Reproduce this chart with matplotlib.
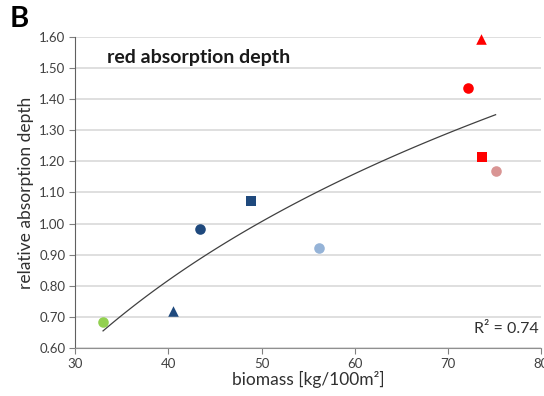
import numpy as np
import matplotlib.pyplot as plt

plt.rcParams['font.family'] = ['Lato', 'DejaVu Sans']

# data
biomass = [33.0, 40.5, 43.4, 48.9, 56.2, 72.1, 73.5, 73.6, 75.1]
depth = [0.683, 0.72, 0.982, 1.074, 0.92, 1.436, 1.594, 1.213, 1.170]
markers = ['o', '^', 'o', 's', 'o', 'o', '^', 's', 'o']
colors = ['#92D050', '#1F497D', '#1F497D', '#1F497D', '#95B3D7',
          '#FF0000', '#FF0000', '#FF0000', '#D99594']
xticks = [30, 40, 50, 60, 70, 80]
yticks = [0.6, 0.7, 0.8, 0.9, 1.0, 1.1, 1.2, 1.3, 1.4, 1.5, 1.6]

fig = plt.figure(figsize=(5.44, 3.96), dpi=100)
ax = fig.add_axes([0.138, 0.121, 0.857, 0.786])

# log trend line
x = np.array(biomass)
a, b = np.polyfit(np.log(x), depth, 1)
xs = np.linspace(x.min(), x.max(), 100)
ax.plot(xs, a * np.log(xs) + b, color='#404040', lw=0.9, zorder=2)

for xi, yi, m, c in zip(biomass, depth, markers, colors):
    ax.scatter(xi, yi, marker=m, s=58 if m != 's' else 48, color=c, zorder=3,
               linewidths=0, clip_on=False)

ax.set_xlim(30, 80)
ax.set_ylim(0.6, 1.6)
ax.set_xticks(xticks)
ax.set_yticks(yticks)
ax.set_yticklabels([f"{v:.2f}" for v in yticks])
ax.yaxis.grid(True, color='#D9D9D9', lw=1.2)
ax.set_axisbelow(True)
ax.tick_params(axis='both', direction='out', length=4, width=0.8, color='#808080',
               labelsize=9.5, labelcolor='#404040', pad=3)
for s in ['top', 'right']:
    ax.spines[s].set_visible(False)
ax.spines['left'].set_color('#606060')
ax.spines['bottom'].set_color('#909090')

ax.set_xlabel('biomass [kg/100m²]', fontsize=12.5, color='#303030', labelpad=1)
ax.set_ylabel('relative absorption depth', fontsize=12.5, color='#303030', labelpad=4)

ax.text(0.069, 0.96, 'red absorption depth', transform=ax.transAxes, fontsize=14,
        fontweight='bold', color='#1a1a1a', va='top')
ax.text(0.995, 0.04, 'R² = 0.74', transform=ax.transAxes, fontsize=11.5,
        color='#303030', ha='right', va='bottom')
fig.text(0.018, 0.985, 'B', fontsize=21, fontweight='bold', va='top')

fig.savefig('out.png', dpi=100)
